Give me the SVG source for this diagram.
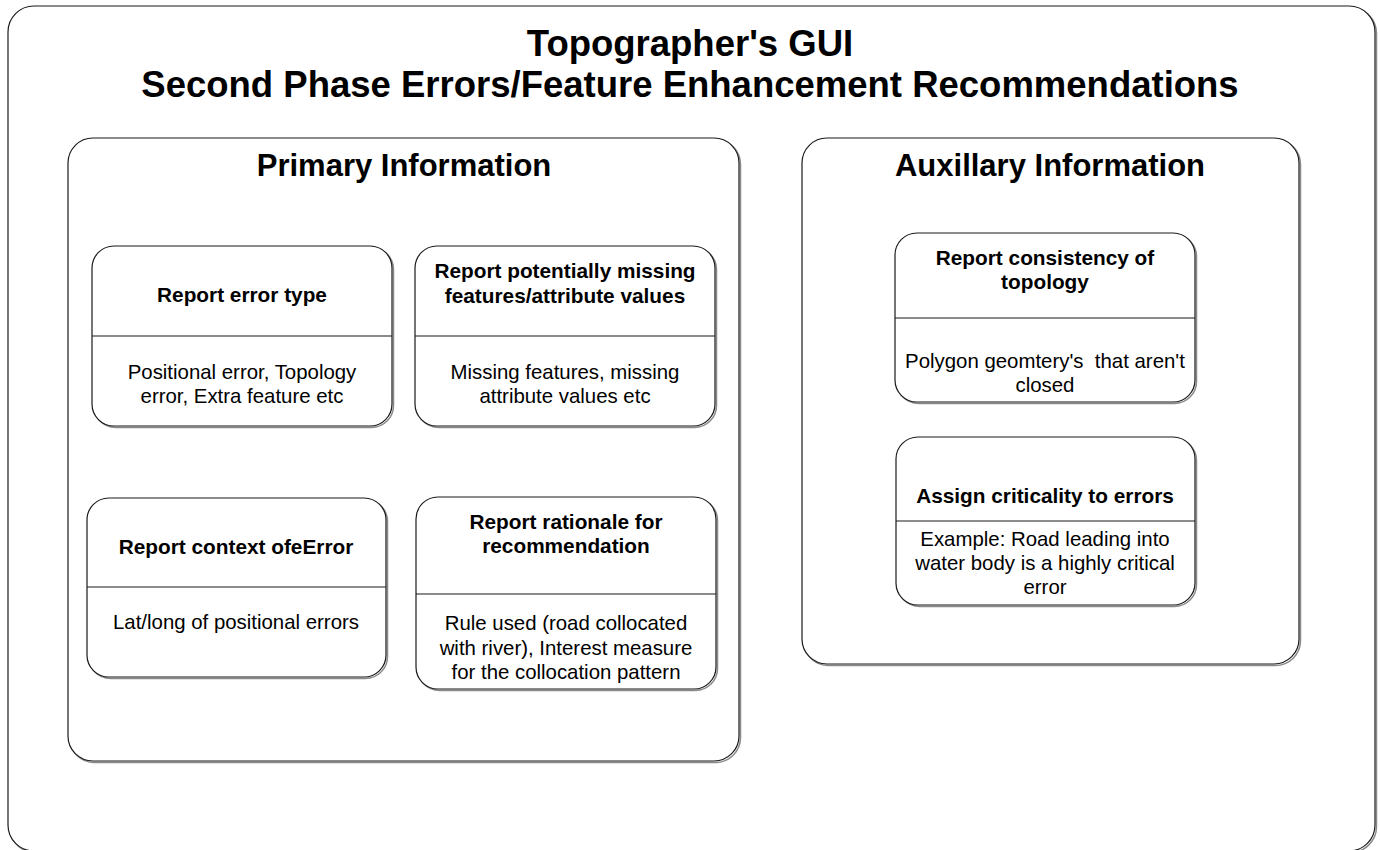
<svg xmlns="http://www.w3.org/2000/svg" width="1380" height="850" viewBox="0 0 1380 850">
  <style>
    .frame { fill: #ffffff; stroke: #1a1a1a; stroke-width: 1.2; }
    .shadow { fill: none; stroke: #8a8a8a; stroke-width: 1.5; }
    .div { stroke: #1a1a1a; stroke-width: 1.2; }
    text { font-family: "Liberation Sans", Arial, sans-serif; fill: #000; text-anchor: middle; }
    .h1 { font-size: 36.5px; font-weight: bold; }
    .h2 { font-size: 31px; font-weight: bold; }
    .nt { font-size: 20.8px; font-weight: bold; }
    .nb { font-size: 20.4px; }
  </style>
  <rect width="1380" height="850" fill="#ffffff"/>

  <!-- outer container -->
  <g id="gui">
    <rect class="shadow" x="9.5" y="7.5" width="1367" height="845" rx="26"/>
    <rect class="frame" x="8" y="6" width="1367" height="845" rx="26"/>
    <text class="h1" x="690" y="56">Topographer's GUI</text>
    <text class="h1" x="690" y="97">Second Phase Errors/Feature Enhancement Recommendations</text>
  </g>

  <!-- primary information panel -->
  <g id="primary">
    <rect class="shadow" x="69.5" y="139.5" width="671" height="623" rx="25"/>
    <rect class="frame" x="68" y="138" width="671" height="623" rx="25"/>
    <text class="h2" x="404" y="176">Primary Information</text>
  </g>

  <!-- auxiliary information panel -->
  <g id="auxiliary">
    <rect class="shadow" x="803.5" y="139.5" width="497" height="526" rx="25"/>
    <rect class="frame" x="802" y="138" width="497" height="526" rx="25"/>
    <text class="h2" x="1050" y="176">Auxillary Information</text>
  </g>

  <g id="error-type">
    <rect class="shadow" x="93.5" y="247.5" width="300" height="180" rx="22"/>
    <rect class="frame" x="92" y="246" width="300" height="180" rx="22"/>
    <line class="div" x1="92" y1="336" x2="392" y2="336"/>
    <text class="nt" x="242" y="302">Report error type</text>
    <text class="nb" x="242" y="379">Positional error, Topology</text>
    <text class="nb" x="242" y="403">error, Extra feature etc</text>
  </g>

  <g id="missing-features">
    <rect class="shadow" x="416.5" y="247.5" width="300" height="180" rx="22"/>
    <rect class="frame" x="415" y="246" width="300" height="180" rx="22"/>
    <line class="div" x1="415" y1="336" x2="715" y2="336"/>
    <text class="nt" x="565" y="278">Report potentially missing</text>
    <text class="nt" x="565" y="303">features/attribute values</text>
    <text class="nb" x="565" y="379">Missing features, missing</text>
    <text class="nb" x="565" y="403">attribute values etc</text>
  </g>

  <g id="error-context">
    <rect class="shadow" x="88.5" y="499.5" width="299" height="179" rx="22"/>
    <rect class="frame" x="87" y="498" width="299" height="179" rx="22"/>
    <line class="div" x1="87" y1="587" x2="386" y2="587"/>
    <text class="nt" x="236" y="554">Report context ofeError</text>
    <text class="nb" x="236" y="629">Lat/long of positional errors</text>
  </g>

  <g id="rationale">
    <rect class="shadow" x="417.5" y="498.5" width="300" height="192" rx="22"/>
    <rect class="frame" x="416" y="497" width="300" height="192" rx="22"/>
    <line class="div" x1="416" y1="594" x2="716" y2="594"/>
    <text class="nt" x="566" y="529">Report rationale for</text>
    <text class="nt" x="566" y="553">recommendation</text>
    <text class="nb" x="566" y="630">Rule used (road collocated</text>
    <text class="nb" x="566" y="655">with river), Interest measure</text>
    <text class="nb" x="566" y="679">for the collocation pattern</text>
  </g>

  <g id="topology-consistency">
    <rect class="shadow" x="896.5" y="234.5" width="300" height="169" rx="22"/>
    <rect class="frame" x="895" y="233" width="300" height="169" rx="22"/>
    <line class="div" x1="895" y1="318" x2="1195" y2="318"/>
    <text class="nt" x="1045" y="265">Report consistency of</text>
    <text class="nt" x="1045" y="289">topology</text>
    <text class="nb" x="1045" y="368" xml:space="preserve">Polygon geomtery's  that aren't</text>
    <text class="nb" x="1045" y="392">closed</text>
  </g>

  <g id="criticality">
    <rect class="shadow" x="897.5" y="438.5" width="299" height="168" rx="22"/>
    <rect class="frame" x="896" y="437" width="299" height="168" rx="22"/>
    <line class="div" x1="896" y1="521" x2="1195" y2="521"/>
    <text class="nt" x="1045" y="503">Assign criticality to errors</text>
    <text class="nb" x="1045" y="546">Example: Road leading into</text>
    <text class="nb" x="1045" y="570">water body is a highly critical</text>
    <text class="nb" x="1045" y="594">error</text>
  </g>

  <g id="connectors"/>
</svg>
